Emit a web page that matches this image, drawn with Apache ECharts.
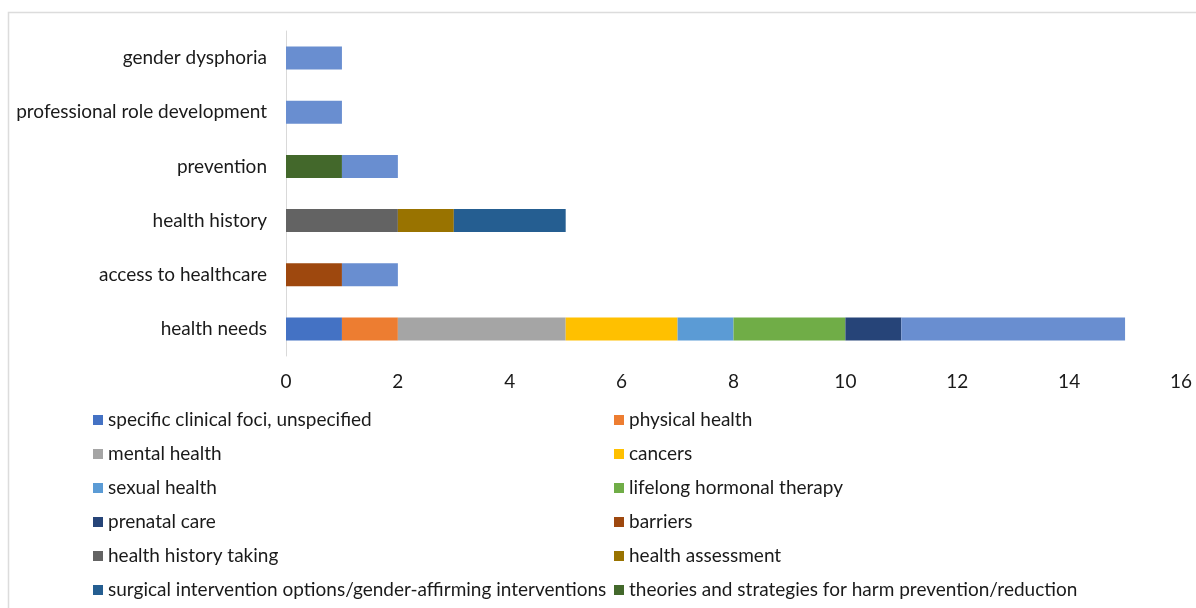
<!DOCTYPE html>
<html>
<head>
<meta charset="utf-8">
<script src="https://cdn.jsdelivr.net/npm/echarts@6/dist/echarts.min.js"></script>
<style>
  html, body { margin: 0; padding: 0; background: #ffffff; }
  #chart { width: 1196px; height: 608px; }
</style>
</head>
<body>
<div id="chart"></div>
<script>
// Topic categories, listed bottom to top along the y axis
const categories = ['health needs', 'access to healthcare', 'health history', 'prevention', 'professional role development', 'gender dysphoria'];

// Count of items per sub-topic, one value per category above
const specificClinicalFoci = [1, 0, 0, 0, 0, 0];
const physicalHealth       = [1, 0, 0, 0, 0, 0];
const mentalHealth         = [3, 0, 0, 0, 0, 0];
const cancers              = [2, 0, 0, 0, 0, 0];
const sexualHealth         = [1, 0, 0, 0, 0, 0];
const hormonalTherapy      = [2, 0, 0, 0, 0, 0];
const prenatalCare         = [1, 0, 0, 0, 0, 0];
const barriers             = [0, 1, 0, 0, 0, 0];
const historyTaking        = [0, 0, 2, 0, 0, 0];
const healthAssessment     = [0, 0, 1, 0, 0, 0];
const surgicalOptions      = [0, 0, 2, 0, 0, 0];
const harmReduction        = [0, 0, 0, 1, 0, 0];
const generalTopic         = [4, 1, 0, 1, 1, 1];

// x axis ticks
const xTicks = [0, 2, 4, 6, 8, 10, 12, 14, 16];

const seriesDefs = [
  { name: 'specific clinical foci, unspecified', data: specificClinicalFoci, color: '#4472C4' },
  { name: 'physical health', data: physicalHealth, color: '#ED7D31' },
  { name: 'mental health', data: mentalHealth, color: '#A5A5A5' },
  { name: 'cancers', data: cancers, color: '#FFC000' },
  { name: 'sexual health', data: sexualHealth, color: '#5B9BD5' },
  { name: 'lifelong hormonal therapy', data: hormonalTherapy, color: '#70AD47' },
  { name: 'prenatal care', data: prenatalCare, color: '#264478' },
  { name: 'barriers', data: barriers, color: '#9E480E' },
  { name: 'health history taking', data: historyTaking, color: '#636363' },
  { name: 'health assessment', data: healthAssessment, color: '#997300' },
  { name: 'surgical intervention options/gender-affirming interventions', data: surgicalOptions, color: '#255E91' },
  { name: 'theories and strategies for harm prevention/reduction', data: harmReduction, color: '#43682B' },
  { name: 'general', data: generalTopic, color: '#698ED0' }
];

const FONT = 'Lato';
const FONT_SIZE = 19;
const legendText = { fontFamily: FONT, fontSize: FONT_SIZE, color: '#1a1a1a', lineHeight: 20 };

// Two-column legend: one component per entry, filled row by row
const legends = seriesDefs.slice(0, 12).map((s, i) => ({
  data: [s.name],
  orient: 'horizontal',
  left: i % 2 === 0 ? 93 : 614,
  top: 410 + Math.floor(i / 2) * 34,
  padding: 0,
  itemWidth: 10,
  itemHeight: 10,
  icon: 'rect',
  textStyle: legendText,
  selectedMode: false
}));

const chart = echarts.init(document.getElementById('chart'), null, { renderer: 'canvas' });
chart.setOption({
  backgroundColor: '#ffffff',
  animation: false,
  graphic: [{
    type: 'rect',
    shape: { x: 8.5, y: 12.5, width: 1300, height: 700 },
    style: { fill: 'none', stroke: '#dcdcdc', lineWidth: 1.5 },
    silent: true
  }],
  grid: { left: 286, right: 15, top: 31, bottom: 252, containLabel: false },
  xAxis: {
    type: 'value',
    min: xTicks[0],
    max: xTicks[xTicks.length - 1],
    interval: 2,
    axisLine: { show: false },
    axisTick: { show: false },
    splitLine: { show: false },
    axisLabel: { fontFamily: FONT, fontSize: FONT_SIZE, color: '#1a1a1a', margin: 16 }
  },
  yAxis: {
    type: 'category',
    data: categories,
    axisLine: { show: true, lineStyle: { color: '#d9d9d9', width: 1 } },
    axisTick: { show: false },
    axisLabel: { fontFamily: FONT, fontSize: FONT_SIZE, color: '#1a1a1a', margin: 19 }
  },
  legend: legends,
  series: seriesDefs.map(s => ({
    name: s.name,
    type: 'bar',
    stack: 'total',
    data: s.data,
    barWidth: 23,
    itemStyle: { color: s.color },
    emphasis: { disabled: true }
  }))
});
</script>
</body>
</html>
